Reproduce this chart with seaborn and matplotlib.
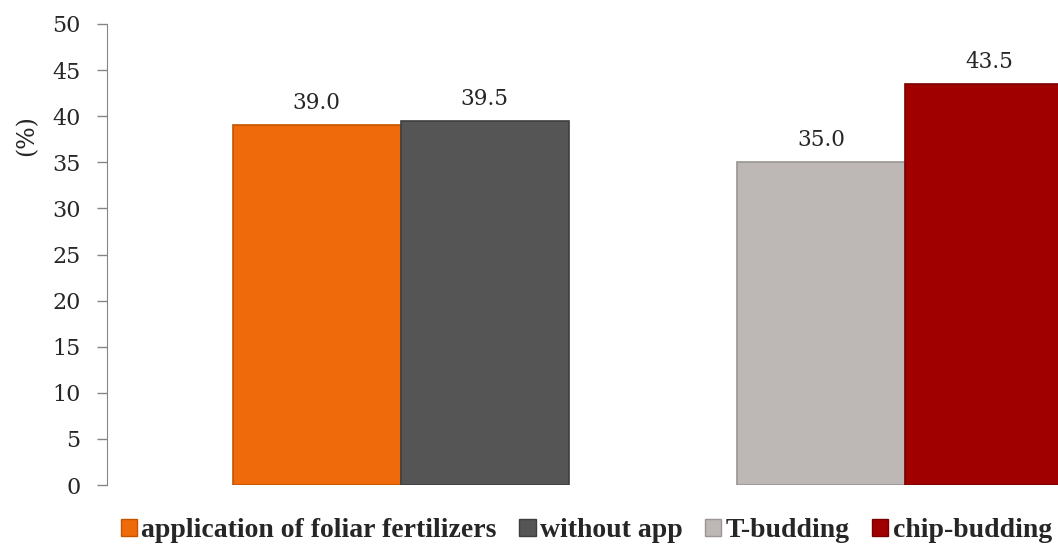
import pandas as pd
import matplotlib
matplotlib.use("Agg")
import matplotlib.pyplot as plt
import seaborn as sns

# data
treatments = ["application of foliar fertilizers", "without app", "T-budding", "chip-budding"]
values = [39.0, 39.5, 35.0, 43.5]
colors = ["#EE6A0A", "#555555", "#BDB8B5", "#A00000"]
edge_colors = ["#C65300", "#3E3E3E", "#9A9593", "#7A0000"]

# a blank slot separates the two groups
order = ["application of foliar fertilizers", "without app", " ", "T-budding", "chip-budding"]

df = pd.DataFrame({"treatment": treatments, "value": values})

sns.set_style("white")
plt.rcParams["font.family"] = ["DejaVu Serif"]

fig = plt.figure(figsize=(10.58, 5.45), dpi=100)
ax = fig.add_axes([0.1011, 0.110, 0.8989, 0.846])

sns.barplot(data=df, x="treatment", y="value", hue="treatment", order=order,
            hue_order=treatments, palette=colors, saturation=1, width=1.0,
            legend=False, ax=ax)

for patch, ec in zip(ax.patches, edge_colors):
    patch.set_edgecolor(ec)
    patch.set_linewidth(1.2)

for cont in ax.containers:
    ax.bar_label(cont, fmt="%.1f", padding=8, fontsize=15.5)

ax.set_ylim(0, 50)
ax.set_yticks(range(0, 51, 5))
ax.set_xlim(-1.247, 4.41)
ax.set_xticks([])
ax.set_xlabel("")
ax.set_ylabel("(%)", fontsize=17)
ax.yaxis.set_label_coords(-0.072, 0.757)
ax.tick_params(axis="y", which="major", direction="out", length=7, width=1,
               color="#868686", labelsize=16, pad=12, left=True)

sns.despine(ax=ax, top=True, right=True, bottom=True)
ax.spines["left"].set_color("#868686")

handles = [plt.Rectangle((0, 0), 1, 1, facecolor=c, edgecolor=e) for c, e in zip(colors, edge_colors)]
fig.legend(handles, treatments, loc="center", bbox_to_anchor=(0.554, 0.026), ncol=4,
           frameon=False, handlelength=0.6, handleheight=0.6, handletextpad=0.15,
           columnspacing=0.8, borderpad=0.1,
           prop={"family": "Liberation Serif", "weight": "bold", "size": 20})

fig.savefig("out.png", dpi=100)
